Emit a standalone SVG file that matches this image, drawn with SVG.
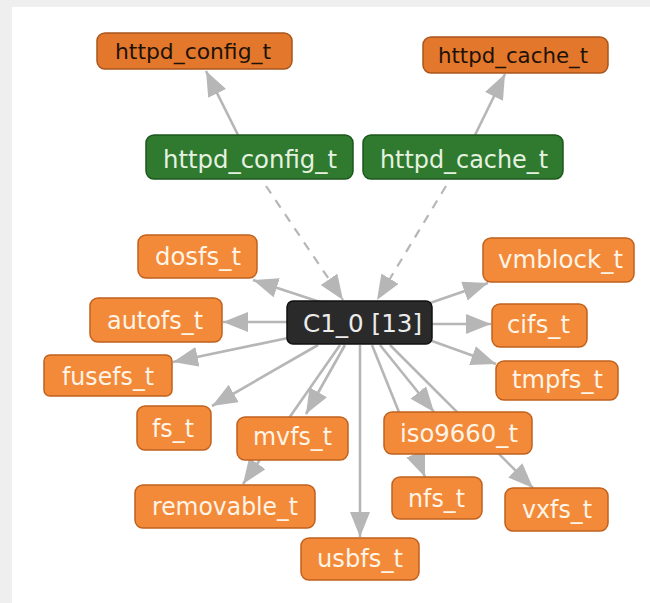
<svg xmlns="http://www.w3.org/2000/svg" width="650" height="603" viewBox="0 0 650 603">
<style>
.bg{fill:#efefef}
.panel{fill:#ffffff}
.e{stroke:#b6b6b6;stroke-width:2.6;fill:none}
.d{stroke:#b6b6b6;stroke-width:2.2;fill:none;stroke-dasharray:9 8}
.top rect{fill:#e3772b;stroke:#a9561c;stroke-width:1.5}
.top text{fill:#1e1208;font-size:21px}
.o rect{fill:#f28a3a;stroke:#c0621e;stroke-width:1.5}
.o text{fill:#fff4e6;font-size:24px}
.g rect{fill:#2f7a2f;stroke:#1c571c;stroke-width:1.5}
.g text{fill:#e6f2e0;font-size:24px}
.k rect{fill:#2a2a2a;stroke:#111;stroke-width:1.5}
.k text{fill:#ececec;font-size:24px}
text{font-family:"DejaVu Sans","Liberation Sans",sans-serif;text-anchor:middle}
</style>
<defs>
<marker id="ah" markerUnits="userSpaceOnUse" markerWidth="28" markerHeight="22" refX="25" refY="10" orient="auto" viewBox="0 0 28 22">
<path d="M0,0 L25,10 L0,20 z" fill="#b6b6b6"/>
</marker>
</defs>
<rect class="bg" x="0" y="0" width="650" height="603"/>
<rect class="panel" x="12" y="7" width="638" height="596"/>
<g id="connectors">
<line class="e" x1="238" y1="135" x2="206" y2="71" marker-end="url(#ah)"/>
<line class="e" x1="475" y1="135" x2="505" y2="74" marker-end="url(#ah)"/>
<line class="d" x1="266" y1="186" x2="343" y2="300" marker-end="url(#ah)"/>
<line class="d" x1="446" y1="186" x2="377" y2="300" marker-end="url(#ah)"/>
<line class="e" x1="320" y1="302" x2="253" y2="280" marker-end="url(#ah)"/>
<line class="e" x1="287" y1="322" x2="223" y2="322" marker-end="url(#ah)"/>
<line class="e" x1="288" y1="338" x2="173" y2="362" marker-end="url(#ah)"/>
<line class="e" x1="318" y1="345" x2="212" y2="406" marker-end="url(#ah)"/>
<line class="e" x1="345" y1="345" x2="306" y2="414" marker-end="url(#ah)"/>
<line class="e" x1="340" y1="345" x2="243" y2="484" marker-end="url(#ah)"/>
<line class="e" x1="360" y1="345" x2="360" y2="537" marker-end="url(#ah)"/>
<line class="e" x1="372" y1="345" x2="425" y2="477" marker-end="url(#ah)"/>
<line class="e" x1="380" y1="345" x2="434" y2="412" marker-end="url(#ah)"/>
<line class="e" x1="390" y1="345" x2="533" y2="488" marker-end="url(#ah)"/>
<line class="e" x1="432" y1="341" x2="496" y2="364" marker-end="url(#ah)"/>
<line class="e" x1="432" y1="324" x2="491" y2="324" marker-end="url(#ah)"/>
<line class="e" x1="430" y1="303" x2="488" y2="283" marker-end="url(#ah)"/>
</g>
<g id="n_httpd_config_t_top" class="top"><rect x="97" y="33" width="195" height="36" rx="8"/><text x="193" y="59" textLength="156" lengthAdjust="spacingAndGlyphs">httpd_config_t</text></g>
<g id="n_httpd_cache_t_top" class="top"><rect x="423" y="37" width="185" height="36" rx="8"/><text x="513" y="63" textLength="150" lengthAdjust="spacingAndGlyphs">httpd_cache_t</text></g>
<g id="n_httpd_config_t" class="g"><rect x="146" y="135" width="207" height="44" rx="8"/><text x="250" y="168" textLength="174" lengthAdjust="spacingAndGlyphs">httpd_config_t</text></g>
<g id="n_httpd_cache_t" class="g"><rect x="363" y="135" width="200" height="44" rx="8"/><text x="464" y="168" textLength="168" lengthAdjust="spacingAndGlyphs">httpd_cache_t</text></g>
<g id="n_C1_0" class="k"><rect x="287" y="301" width="145" height="43" rx="6"/><text x="362.5" y="332" textLength="119" lengthAdjust="spacingAndGlyphs">C1_0 [13]</text></g>
<g id="n_dosfs_t" class="o"><rect x="138" y="235" width="119" height="43" rx="8"/><text x="198" y="265" textLength="86" lengthAdjust="spacingAndGlyphs">dosfs_t</text></g>
<g id="n_vmblock_t" class="o"><rect x="483" y="238" width="151" height="44" rx="8"/><text x="560.5" y="268" textLength="125" lengthAdjust="spacingAndGlyphs">vmblock_t</text></g>
<g id="n_autofs_t" class="o"><rect x="90" y="298" width="132" height="44" rx="8"/><text x="155" y="329" textLength="96" lengthAdjust="spacingAndGlyphs">autofs_t</text></g>
<g id="n_cifs_t" class="o"><rect x="492" y="304" width="95" height="43" rx="8"/><text x="538.5" y="333" textLength="63" lengthAdjust="spacingAndGlyphs">cifs_t</text></g>
<g id="n_fusefs_t" class="o"><rect x="44" y="355" width="128" height="41" rx="6"/><text x="108" y="385" textLength="92" lengthAdjust="spacingAndGlyphs">fusefs_t</text></g>
<g id="n_tmpfs_t" class="o"><rect x="496" y="361" width="122" height="39" rx="8"/><text x="557.5" y="388" textLength="91" lengthAdjust="spacingAndGlyphs">tmpfs_t</text></g>
<g id="n_fs_t" class="o"><rect x="137" y="406" width="74" height="44" rx="8"/><text x="173" y="437" textLength="42" lengthAdjust="spacingAndGlyphs">fs_t</text></g>
<g id="n_mvfs_t" class="o"><rect x="237" y="417" width="111" height="43" rx="8"/><text x="292.5" y="445" textLength="79" lengthAdjust="spacingAndGlyphs">mvfs_t</text></g>
<g id="n_iso9660_t" class="o"><rect x="384" y="412" width="148" height="42" rx="8"/><text x="459" y="442" textLength="118" lengthAdjust="spacingAndGlyphs">iso9660_t</text></g>
<g id="n_removable_t" class="o"><rect x="135" y="485" width="180" height="43" rx="8"/><text x="225" y="515" textLength="146" lengthAdjust="spacingAndGlyphs">removable_t</text></g>
<g id="n_nfs_t" class="o"><rect x="392" y="477" width="90" height="42" rx="8"/><text x="436.5" y="507" textLength="57" lengthAdjust="spacingAndGlyphs">nfs_t</text></g>
<g id="n_vxfs_t" class="o"><rect x="505" y="488" width="103" height="43" rx="8"/><text x="557" y="518" textLength="70" lengthAdjust="spacingAndGlyphs">vxfs_t</text></g>
<g id="n_usbfs_t" class="o"><rect x="301" y="538" width="118" height="42" rx="8"/><text x="360" y="567" textLength="86" lengthAdjust="spacingAndGlyphs">usbfs_t</text></g>
</svg>
